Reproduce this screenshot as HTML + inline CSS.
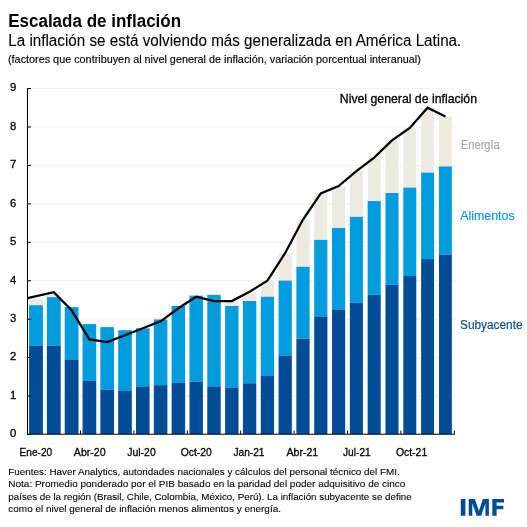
<!DOCTYPE html>
<html><head><meta charset="utf-8"><style>
html,body{margin:0;padding:0;background:#fff;}
body{width:527px;height:527px;overflow:hidden;position:relative;}
svg{position:absolute;left:0;top:0;will-change:transform;}
text{font-family:"Liberation Sans",sans-serif;}
</style></head><body>
<svg width="527" height="527" viewBox="0 0 527 527">
<line x1="32" y1="396.06" x2="455" y2="396.06" stroke="#f3f1ea" stroke-width="1"/>
<line x1="32" y1="357.62" x2="455" y2="357.62" stroke="#f3f1ea" stroke-width="1"/>
<line x1="32" y1="319.18" x2="455" y2="319.18" stroke="#f3f1ea" stroke-width="1"/>
<line x1="32" y1="280.74" x2="455" y2="280.74" stroke="#f3f1ea" stroke-width="1"/>
<line x1="32" y1="242.30" x2="455" y2="242.30" stroke="#f3f1ea" stroke-width="1"/>
<line x1="32" y1="203.86" x2="455" y2="203.86" stroke="#f3f1ea" stroke-width="1"/>
<line x1="32" y1="165.42" x2="455" y2="165.42" stroke="#f3f1ea" stroke-width="1"/>
<line x1="32" y1="126.98" x2="455" y2="126.98" stroke="#f3f1ea" stroke-width="1"/>
<line x1="32" y1="88.54" x2="455" y2="88.54" stroke="#f3f1ea" stroke-width="1"/>
<rect x="29.07" y="298.31" width="13.85" height="6.92" fill="#edebe1"/>
<rect x="29.07" y="305.23" width="13.85" height="40.36" fill="#009cde"/>
<rect x="29.07" y="345.59" width="13.85" height="88.41" fill="#004c97"/>
<rect x="46.90" y="292.16" width="13.81" height="5.00" fill="#edebe1"/>
<rect x="46.90" y="297.15" width="13.81" height="48.43" fill="#009cde"/>
<rect x="46.90" y="345.59" width="13.81" height="88.41" fill="#004c97"/>
<rect x="64.72" y="307.15" width="13.77" height="52.28" fill="#009cde"/>
<rect x="64.72" y="359.43" width="13.77" height="74.57" fill="#004c97"/>
<rect x="82.54" y="324.06" width="13.72" height="56.89" fill="#009cde"/>
<rect x="82.54" y="380.95" width="13.72" height="53.05" fill="#004c97"/>
<rect x="100.36" y="327.14" width="13.68" height="62.66" fill="#009cde"/>
<rect x="100.36" y="389.79" width="13.68" height="44.21" fill="#004c97"/>
<rect x="118.18" y="330.21" width="13.64" height="60.74" fill="#009cde"/>
<rect x="118.18" y="390.95" width="13.64" height="43.05" fill="#004c97"/>
<rect x="136.00" y="328.29" width="13.60" height="58.04" fill="#009cde"/>
<rect x="136.00" y="386.33" width="13.60" height="47.67" fill="#004c97"/>
<rect x="153.82" y="319.45" width="13.56" height="65.73" fill="#009cde"/>
<rect x="153.82" y="385.18" width="13.56" height="48.82" fill="#004c97"/>
<rect x="171.64" y="305.99" width="13.51" height="76.50" fill="#009cde"/>
<rect x="171.64" y="382.49" width="13.51" height="51.51" fill="#004c97"/>
<rect x="189.46" y="295.62" width="13.47" height="86.11" fill="#009cde"/>
<rect x="189.46" y="381.72" width="13.47" height="52.28" fill="#004c97"/>
<rect x="207.28" y="294.85" width="13.43" height="91.49" fill="#009cde"/>
<rect x="207.28" y="386.33" width="13.43" height="47.67" fill="#004c97"/>
<rect x="225.11" y="301.00" width="13.39" height="5.00" fill="#edebe1"/>
<rect x="225.11" y="305.99" width="13.39" height="81.49" fill="#009cde"/>
<rect x="225.11" y="387.49" width="13.39" height="46.51" fill="#004c97"/>
<rect x="242.93" y="291.77" width="13.35" height="9.23" fill="#edebe1"/>
<rect x="242.93" y="301.00" width="13.35" height="82.26" fill="#009cde"/>
<rect x="242.93" y="383.26" width="13.35" height="50.74" fill="#004c97"/>
<rect x="260.75" y="280.62" width="13.30" height="16.14" fill="#edebe1"/>
<rect x="260.75" y="296.77" width="13.30" height="79.19" fill="#009cde"/>
<rect x="260.75" y="375.96" width="13.30" height="58.04" fill="#004c97"/>
<rect x="278.57" y="252.95" width="13.26" height="27.68" fill="#edebe1"/>
<rect x="278.57" y="280.62" width="13.26" height="74.96" fill="#009cde"/>
<rect x="278.57" y="355.58" width="13.26" height="78.42" fill="#004c97"/>
<rect x="296.39" y="219.50" width="13.22" height="47.28" fill="#edebe1"/>
<rect x="296.39" y="266.79" width="13.22" height="71.88" fill="#009cde"/>
<rect x="296.39" y="338.67" width="13.22" height="95.33" fill="#004c97"/>
<rect x="314.21" y="193.37" width="13.18" height="46.51" fill="#edebe1"/>
<rect x="314.21" y="239.88" width="13.18" height="76.50" fill="#009cde"/>
<rect x="314.21" y="316.37" width="13.18" height="117.63" fill="#004c97"/>
<rect x="332.03" y="186.06" width="13.14" height="41.90" fill="#edebe1"/>
<rect x="332.03" y="227.96" width="13.14" height="81.49" fill="#009cde"/>
<rect x="332.03" y="309.45" width="13.14" height="124.55" fill="#004c97"/>
<rect x="349.85" y="171.07" width="13.09" height="45.74" fill="#edebe1"/>
<rect x="349.85" y="216.81" width="13.09" height="86.11" fill="#009cde"/>
<rect x="349.85" y="302.92" width="13.09" height="131.08" fill="#004c97"/>
<rect x="367.67" y="157.62" width="13.05" height="43.44" fill="#edebe1"/>
<rect x="367.67" y="201.05" width="13.05" height="93.79" fill="#009cde"/>
<rect x="367.67" y="294.85" width="13.05" height="139.15" fill="#004c97"/>
<rect x="385.50" y="140.32" width="13.01" height="52.66" fill="#edebe1"/>
<rect x="385.50" y="192.98" width="13.01" height="91.87" fill="#009cde"/>
<rect x="385.50" y="284.85" width="13.01" height="149.15" fill="#004c97"/>
<rect x="403.32" y="128.02" width="12.97" height="59.58" fill="#edebe1"/>
<rect x="403.32" y="187.60" width="12.97" height="88.41" fill="#009cde"/>
<rect x="403.32" y="276.01" width="12.97" height="157.99" fill="#004c97"/>
<rect x="421.14" y="107.64" width="12.93" height="64.96" fill="#edebe1"/>
<rect x="421.14" y="172.61" width="12.93" height="86.49" fill="#009cde"/>
<rect x="421.14" y="259.10" width="12.93" height="174.90" fill="#004c97"/>
<rect x="438.96" y="116.49" width="12.88" height="49.97" fill="#edebe1"/>
<rect x="438.96" y="166.46" width="12.88" height="88.41" fill="#009cde"/>
<rect x="438.96" y="254.87" width="12.88" height="179.13" fill="#004c97"/>
<polyline fill="none" stroke="#000" stroke-width="2.25" stroke-linejoin="miter" points="27.50,298.10 53.80,292.16 71.60,310.22 89.40,339.44 107.20,342.13 125.00,335.21 142.80,328.29 160.60,321.37 178.40,308.30 196.20,296.77 214.00,301.00 231.80,301.00 249.60,291.77 267.40,280.62 285.20,252.95 303.00,219.50 320.80,193.37 338.60,186.06 356.40,171.07 374.20,157.62 392.00,140.32 409.80,128.02 427.60,107.64 445.40,116.49"/>
<line x1="27.5" y1="88.2" x2="27.5" y2="434.75" stroke="#000" stroke-width="1"/>
<line x1="27" y1="434.25" x2="455" y2="434.25" stroke="#000" stroke-width="1.05"/>
<line x1="27" y1="434.50" x2="31" y2="434.50" stroke="#000" stroke-width="1"/>
<line x1="27" y1="396.06" x2="31" y2="396.06" stroke="#000" stroke-width="1"/>
<line x1="27" y1="357.62" x2="31" y2="357.62" stroke="#000" stroke-width="1"/>
<line x1="27" y1="319.18" x2="31" y2="319.18" stroke="#000" stroke-width="1"/>
<line x1="27" y1="280.74" x2="31" y2="280.74" stroke="#000" stroke-width="1"/>
<line x1="27" y1="242.30" x2="31" y2="242.30" stroke="#000" stroke-width="1"/>
<line x1="27" y1="203.86" x2="31" y2="203.86" stroke="#000" stroke-width="1"/>
<line x1="27" y1="165.42" x2="31" y2="165.42" stroke="#000" stroke-width="1"/>
<line x1="27" y1="126.98" x2="31" y2="126.98" stroke="#000" stroke-width="1"/>
<line x1="27" y1="88.54" x2="31" y2="88.54" stroke="#000" stroke-width="1"/>
<line x1="80.50" y1="430.5" x2="80.50" y2="434" stroke="#000" stroke-width="1"/>
<line x1="133.90" y1="430.5" x2="133.90" y2="434" stroke="#000" stroke-width="1"/>
<line x1="187.30" y1="430.5" x2="187.30" y2="434" stroke="#000" stroke-width="1"/>
<line x1="240.70" y1="430.5" x2="240.70" y2="434" stroke="#000" stroke-width="1"/>
<line x1="294.10" y1="430.5" x2="294.10" y2="434" stroke="#000" stroke-width="1"/>
<line x1="347.50" y1="430.5" x2="347.50" y2="434" stroke="#000" stroke-width="1"/>
<line x1="400.90" y1="430.5" x2="400.90" y2="434" stroke="#000" stroke-width="1"/>
<line x1="454.30" y1="430.5" x2="454.30" y2="434" stroke="#000" stroke-width="1"/>
<text x="8.20" y="26.70" font-size="17.5" font-weight="bold" textLength="172.90" lengthAdjust="spacingAndGlyphs" style="fill:#000;stroke:#000;stroke-width:0px">Escalada de inflación</text>
<text x="8.30" y="45.70" font-size="16" font-weight="normal" textLength="453.00" lengthAdjust="spacingAndGlyphs" style="fill:#000;stroke:#000;stroke-width:0.1px">La inflación se está volviendo más generalizada en América Latina.</text>
<text x="8.00" y="62.60" font-size="10.5" font-weight="normal" textLength="412.80" lengthAdjust="spacingAndGlyphs" style="fill:#000;stroke:#000;stroke-width:0.15px">(factores que contribuyen al nivel general de inflación, variación porcentual interanual)</text>
<text x="339.80" y="102.80" font-size="12.5" font-weight="normal" textLength="137.20" lengthAdjust="spacingAndGlyphs" style="fill:#000;stroke:#000;stroke-width:0.3px">Nivel general de inflación</text>
<text x="460.90" y="148.80" font-size="12.3" font-weight="normal" textLength="38.90" lengthAdjust="spacingAndGlyphs" style="fill:#a6a6a6;stroke:#a6a6a6;stroke-width:0.15px">Energía</text>
<text x="460.20" y="220.20" font-size="12.3" font-weight="normal" textLength="54.50" lengthAdjust="spacingAndGlyphs" style="fill:#009cde;stroke:#009cde;stroke-width:0.15px">Alimentos</text>
<text x="460.00" y="329.00" font-size="12.3" font-weight="normal" textLength="62.60" lengthAdjust="spacingAndGlyphs" style="fill:#004c97;stroke:#004c97;stroke-width:0.15px">Subyacente</text>
<text x="8.30" y="474.70" font-size="9.8" font-weight="normal" textLength="391.50" lengthAdjust="spacingAndGlyphs" style="fill:#000;stroke:#000;stroke-width:0.1px">Fuentes: Haver Analytics, autoridades nacionales y cálculos del personal técnico del FMI.</text>
<text x="8.30" y="487.30" font-size="9.8" font-weight="normal" textLength="397.10" lengthAdjust="spacingAndGlyphs" style="fill:#000;stroke:#000;stroke-width:0.1px">Nota: Promedio ponderado por el PIB basado en la paridad del poder adquisitivo de cinco</text>
<text x="8.30" y="499.60" font-size="9.8" font-weight="normal" textLength="403.40" lengthAdjust="spacingAndGlyphs" style="fill:#000;stroke:#000;stroke-width:0.1px">países de la región (Brasil, Chile, Colombia, México, Perú). La inflación subyacente se define</text>
<text x="8.30" y="512.10" font-size="9.8" font-weight="normal" textLength="272.70" lengthAdjust="spacingAndGlyphs" style="fill:#000;stroke:#000;stroke-width:0.1px">como el nivel general de inflación menos alimentos y energía.</text>
<text x="19.60" y="456.00" font-size="11.3" font-weight="normal" textLength="32.60" lengthAdjust="spacingAndGlyphs" style="fill:#000;stroke:#000;stroke-width:0.3px">Ene-20</text>
<text x="73.80" y="456.00" font-size="11.3" font-weight="normal" textLength="31.90" lengthAdjust="spacingAndGlyphs" style="fill:#000;stroke:#000;stroke-width:0.3px">Abr-20</text>
<text x="127.30" y="456.00" font-size="11.3" font-weight="normal" textLength="28.40" lengthAdjust="spacingAndGlyphs" style="fill:#000;stroke:#000;stroke-width:0.3px">Jul-20</text>
<text x="180.70" y="456.00" font-size="11.3" font-weight="normal" textLength="31.10" lengthAdjust="spacingAndGlyphs" style="fill:#000;stroke:#000;stroke-width:0.3px">Oct-20</text>
<text x="233.40" y="456.00" font-size="11.3" font-weight="normal" textLength="31.10" lengthAdjust="spacingAndGlyphs" style="fill:#000;stroke:#000;stroke-width:0.3px">Jan-21</text>
<text x="286.40" y="456.00" font-size="11.3" font-weight="normal" textLength="31.90" lengthAdjust="spacingAndGlyphs" style="fill:#000;stroke:#000;stroke-width:0.3px">Abr-21</text>
<text x="343.00" y="456.00" font-size="11.3" font-weight="normal" textLength="27.70" lengthAdjust="spacingAndGlyphs" style="fill:#000;stroke:#000;stroke-width:0.3px">Jul-21</text>
<text x="395.90" y="456.00" font-size="11.3" font-weight="normal" textLength="31.30" lengthAdjust="spacingAndGlyphs" style="fill:#000;stroke:#000;stroke-width:0.3px">Oct-21</text>
<text x="16.2" y="437.30" font-size="11.3" text-anchor="end" style="fill:#000;stroke:#000;stroke-width:0.3px">0</text>
<text x="16.2" y="398.86" font-size="11.3" text-anchor="end" style="fill:#000;stroke:#000;stroke-width:0.3px">1</text>
<text x="16.2" y="360.42" font-size="11.3" text-anchor="end" style="fill:#000;stroke:#000;stroke-width:0.3px">2</text>
<text x="16.2" y="321.98" font-size="11.3" text-anchor="end" style="fill:#000;stroke:#000;stroke-width:0.3px">3</text>
<text x="16.2" y="283.54" font-size="11.3" text-anchor="end" style="fill:#000;stroke:#000;stroke-width:0.3px">4</text>
<text x="16.2" y="245.10" font-size="11.3" text-anchor="end" style="fill:#000;stroke:#000;stroke-width:0.3px">5</text>
<text x="16.2" y="206.66" font-size="11.3" text-anchor="end" style="fill:#000;stroke:#000;stroke-width:0.3px">6</text>
<text x="16.2" y="168.22" font-size="11.3" text-anchor="end" style="fill:#000;stroke:#000;stroke-width:0.3px">7</text>
<text x="16.2" y="129.78" font-size="11.3" text-anchor="end" style="fill:#000;stroke:#000;stroke-width:0.3px">8</text>
<text x="16.2" y="91.34" font-size="11.3" text-anchor="end" style="fill:#000;stroke:#000;stroke-width:0.3px">9</text>
<path fill="#004c97" d="M460.8 499.0H465.4V515.8H460.8Z M468.7 515.8V499.0H474.9L478.9 510.9L482.9 499.0H488.9V515.8H485.4V503.4L481.2 515.8H476.6L472.3 503.4V515.8Z M492.3 515.8V499.0H504.0V502.5H496.6V505.8H503.3V509.2H496.6V515.8Z"/>
</svg>
</body></html>
